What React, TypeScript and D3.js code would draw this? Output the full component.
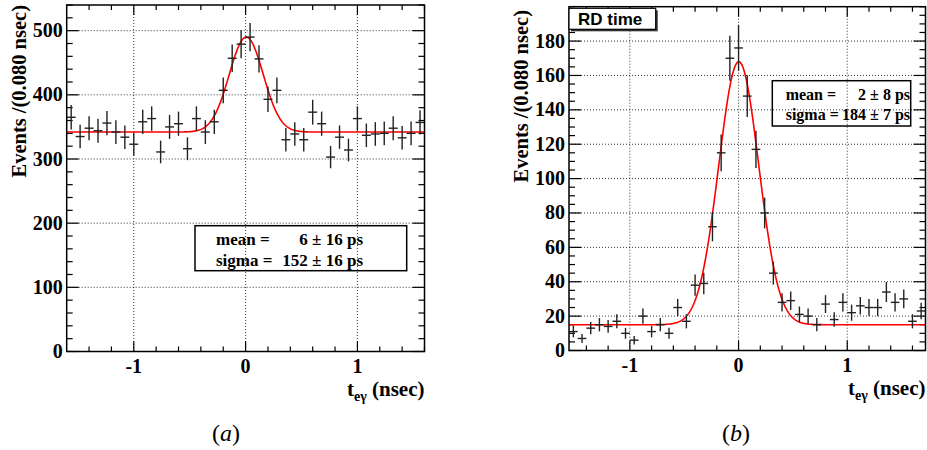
import React from "react";
import * as d3 from "d3";

// ---------- data ----------
const binsA = d3.range(40).map((i) => -1.56 + 0.08 * i);
const countsA = [365, 335, 348, 344, 356, 342, 334, 323, 358, 363, 311, 350, 355, 316, 363, 342, 358, 407, 457, 479, 490, 456, 393, 407, 330, 339, 330, 373, 355, 303, 334, 314, 363, 337, 339, 340, 348, 333, 340, 357];
const binsB = d3.range(41).map((i) => -1.52 + 0.08 * i);
const countsB = [11, 7, 13, 15, 14, 17, 10, 6, 20, 11, 15, 10, 25, 17, 38, 39, 72, 115, 170, 176, 148, 117, 80, 45, 28, 29, 21, 20, 15, 27, 18, 28, 22, 26, 25, 25, 34, 28, 30, 17, 23];

const fitA = { mean: 0.006, sigma: 0.152, base: 342, amp: 148 };
const fitB = { mean: 0.002, sigma: 0.184, base: 15, amp: 153 };

const yTicksA = [0, 100, 200, 300, 400, 500];
const yTicksB = [0, 20, 40, 60, 80, 100, 120, 140, 160, 180];
const xTicks = [-1, 0, 1];

const legendA = { mean: "6", meanErr: "16", sigma: "152", sigmaErr: "16" };
const legendB = { mean: "2", meanErr: "8", sigma: "184", sigmaErr: "7" };

const SERIF = "'Liberation Serif', 'DejaVu Serif', serif";
const SANS = "'Liberation Sans', Arial, sans-serif";

type Leg = {
  x: number; y: number; w: number; h: number; fill: string; fs: number;
  b1: number; b2: number; tx: number; end: number;
  txt: { mean: string; meanErr: string; sigma: string; sigmaErr: string };
};

type PanelProps = {
  x0: number; x1: number; y0: number; y1: number;
  xDom: [number, number]; yDom: [number, number];
  bins: number[]; counts: number[];
  fit: { mean: number; sigma: number; base: number; amp: number };
  yTicks: number[]; yMinor: number;
  legend: Leg;
  titleX: number; titleTop: number;
};

function Panel(p: PanelProps) {
  const x = d3.scaleLinear().domain(p.xDom).range([p.x0, p.x1]);
  const y = d3.scaleLinear().domain(p.yDom).range([p.y1, p.y0]);
  const minorX = d3.range(-1.4, 1.8, 0.2).filter((v) => v >= p.xDom[0] && v <= p.xDom[1] && Math.abs(Math.round(v) - v) > 1e-6);
  const minorY = d3.range(0, p.yDom[1] + 1e-6, p.yMinor).filter((v) => !p.yTicks.some((t) => Math.abs(t - v) < 1e-6));
  const g = (t: number) => p.fit.base + p.fit.amp * Math.exp(-0.5 * ((t - p.fit.mean) / p.fit.sigma) ** 2);
  const fitPts = d3.range(p.xDom[0], p.xDom[1] + 1e-9, 0.005).map((t) => [x(t), y(g(t))] as [number, number]);
  const line = d3.line();
  const hw = 0.04;
  const L = p.legend;
  return (
    <g>
      {/* legend box (under grid) */}
      <rect x={L.x} y={L.y} width={L.w} height={L.h} fill={L.fill} stroke="#000" strokeWidth={1.5} />
      {/* grid */}
      {xTicks.map((t) => (
        <line key={"gx" + t} x1={x(t)} x2={x(t)} y1={p.y0} y2={p.y1} stroke="#000" strokeWidth={0.8} strokeDasharray="1,2" />
      ))}
      {p.yTicks.filter((t) => t > 0).map((t) => (
        <line key={"gy" + t} x1={p.x0} x2={p.x1} y1={y(t)} y2={y(t)} stroke="#000" strokeWidth={0.8} strokeDasharray="1,2" />
      ))}
      {/* ticks */}
      {xTicks.map((t) => (
        <g key={"tx" + t}>
          <line x1={x(t)} x2={x(t)} y1={p.y1} y2={p.y1 - 10} stroke="#000" strokeWidth={1.2} />
          <line x1={x(t)} x2={x(t)} y1={p.y0} y2={p.y0 + 10} stroke="#000" strokeWidth={1.2} />
        </g>
      ))}
      {minorX.map((t, i) => (
        <g key={"mx" + i}>
          <line x1={x(t)} x2={x(t)} y1={p.y1} y2={p.y1 - 5} stroke="#000" strokeWidth={1.2} />
          <line x1={x(t)} x2={x(t)} y1={p.y0} y2={p.y0 + 5} stroke="#000" strokeWidth={1.2} />
        </g>
      ))}
      {p.yTicks.map((t) => (
        <g key={"ty" + t}>
          <line x1={p.x0} x2={p.x0 + 12} y1={y(t)} y2={y(t)} stroke="#000" strokeWidth={1.2} />
          <line x1={p.x1} x2={p.x1 - 12} y1={y(t)} y2={y(t)} stroke="#000" strokeWidth={1.2} />
        </g>
      ))}
      {minorY.map((t, i) => (
        <g key={"my" + i}>
          <line x1={p.x0} x2={p.x0 + 6} y1={y(t)} y2={y(t)} stroke="#000" strokeWidth={1.2} />
          <line x1={p.x1} x2={p.x1 - 6} y1={y(t)} y2={y(t)} stroke="#000" strokeWidth={1.2} />
        </g>
      ))}
      {/* fit */}
      <path d={line(fitPts) || ""} fill="none" stroke="#f00" strokeWidth={1.6} />
      {/* data */}
      {p.bins.map((b, i) => {
        const c = p.counts[i];
        const e = Math.sqrt(c);
        return (
          <g key={"d" + i} stroke="#222" strokeWidth={1.4}>
            <line x1={x(b - hw)} x2={x(b + hw)} y1={y(c)} y2={y(c)} />
            <line x1={x(b)} x2={x(b)} y1={y(Math.max(0, c - e))} y2={y(Math.min(p.yDom[1], c + e))} />
          </g>
        );
      })}
      {/* frame */}
      <rect x={p.x0} y={p.y0} width={p.x1 - p.x0} height={p.y1 - p.y0} fill="none" stroke="#000" strokeWidth={1.5} />
      {/* tick labels */}
      {xTicks.map((t) => (
        <text key={"lx" + t} x={x(t)} y={p.y1 + 21.5} textAnchor="middle" fontFamily={SERIF} fontWeight="bold" fontSize={20}>{t < 0 ? "-" + Math.abs(t) : String(t)}</text>
      ))}
      {p.yTicks.map((t) => (
        <text key={"ly" + t} x={p.x0 - 4} y={y(t) + 6.5} textAnchor="end" fontFamily={SERIF} fontWeight="bold" fontSize={20}>{t}</text>
      ))}
      {/* axis titles */}
      <text x={p.x1} y={p.y1 + 44.5} textAnchor="end" fontFamily={SERIF} fontWeight="bold" fontSize={21}>
        t<tspan fontSize={14} dy={5}>eγ</tspan><tspan dy={-5}> (nsec)</tspan>
      </text>
      <text transform={`translate(${p.titleX},${p.titleTop}) rotate(-90)`} textAnchor="end" fontFamily={SERIF} fontWeight="bold" fontSize={20.5}>Events /(0.080 nsec)</text>
      {/* legend text */}
      <g fontFamily={SERIF} fontWeight="bold" fontSize={L.fs}>
        <text x={L.tx} y={L.b1}>mean  =</text>
        <text x={L.end} y={L.b1} textAnchor="end">{`${L.txt.mean} ± ${L.txt.meanErr} ps`}</text>
        <text x={L.tx} y={L.b2}>sigma =</text>
        <text x={L.end} y={L.b2} textAnchor="end">{`${L.txt.sigma} ± ${L.txt.sigmaErr} ps`}</text>
      </g>
    </g>
  );
}

export default function App() {
  return (
    <svg width={927} height={450} style={{ position: "absolute", left: 0, top: 0, background: "#fff" }}>
      <rect width={927} height={450} fill="#fff" />
      <Panel
        x0={66.7} x1={424.5} y0={5} y1={351.5}
        xDom={[-1.6, 1.6]} yDom={[0, 540]}
        bins={binsA} counts={countsA} fit={fitA}
        yTicks={yTicksA} yMinor={20}
        legend={{ x: 195, y: 225.7, w: 211.7, h: 45, fill: "none", fs: 17, b1: 245, b2: 265.5, tx: 216, end: 363, txt: legendA }}
        titleX={26} titleTop={5}
      />
      <Panel
        x0={569} x1={925.5} y0={6.7} y1={350.5}
        xDom={[-1.56, 1.72]} yDom={[0, 200]}
        bins={binsB} counts={countsB} fit={fitB}
        yTicks={yTicksB} yMinor={5}
        legend={{ x: 772.3, y: 80.7, w: 138.4, h: 45.3, fill: "#fff", fs: 16, b1: 99.5, b2: 119.5, tx: 785.7, end: 910, txt: legendB }}
        titleX={528} titleTop={10}
      />
      {/* RD time label */}
      <rect x={571} y={10.3} width={86.7} height={21} fill="#333" />
      <rect x={569} y={8.3} width={86.7} height={21} fill="#fff" stroke="#000" strokeWidth={1.2} />
      <text x={578} y={25} fontFamily={SANS} fontWeight="bold" fontSize={17}>RD time</text>
      {/* sub captions */}
      <text x={226} y={441} textAnchor="middle" fontFamily={SERIF} fontSize={24}>(<tspan fontStyle="italic">a</tspan>)</text>
      <text x={736} y={441} textAnchor="middle" fontFamily={SERIF} fontSize={24}>(<tspan fontStyle="italic">b</tspan>)</text>
    </svg>
  );
}
